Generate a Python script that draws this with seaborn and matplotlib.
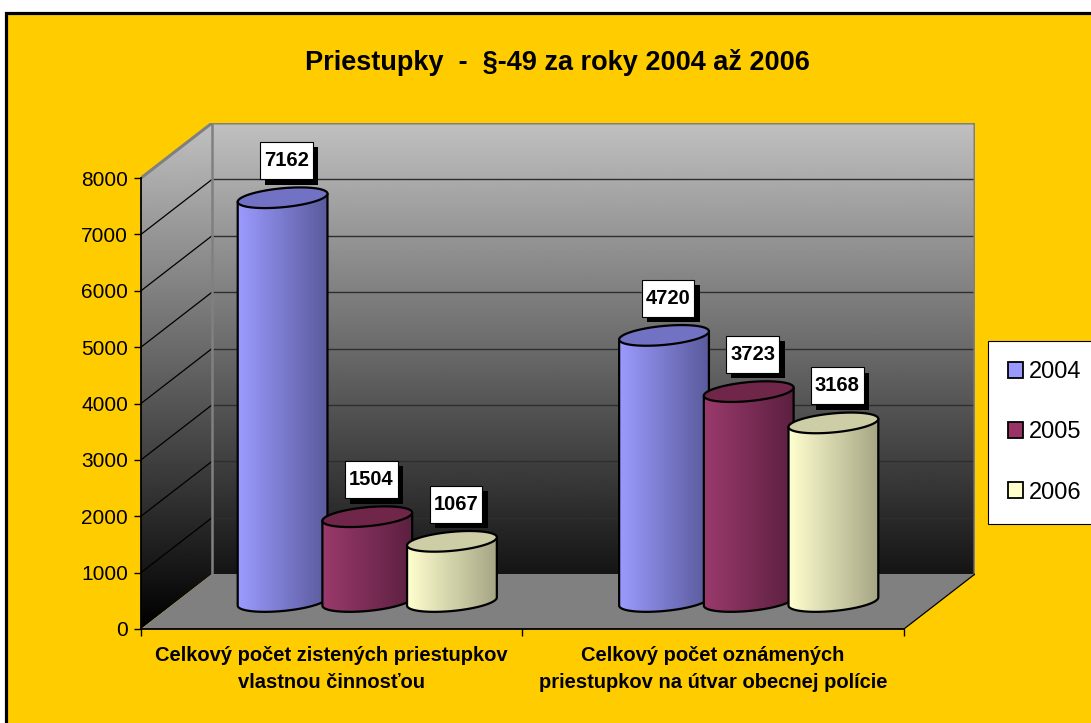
import numpy as np
import pandas as pd
import matplotlib
matplotlib.use("Agg")
import matplotlib.pyplot as plt
import seaborn as sns
from matplotlib.patches import Rectangle, Polygon, PathPatch, Patch
from matplotlib.path import Path
from matplotlib.colors import to_rgb
import matplotlib.patheffects as pe

# ---------------- data ----------------
categories = ["Celkový počet zistených priestupkov\nvlastnou činnosťou",
              "Celkový počet oznámených\npriestupkov na útvar obecnej polície"]
years = ["2004", "2005", "2006"]
values_2004 = [7162, 4720]
values_2005 = [1504, 3723]
values_2006 = [1067, 3168]
y_ticks = [0, 1000, 2000, 3000, 4000, 5000, 6000, 7000, 8000]
title = "Priestupky  -  §-49 za roky 2004 až 2006"

legend_colors = {"2004": "#9999ff", "2005": "#993366", "2006": "#ffffcc"}
side_left = {"2004": "#9b9bff", "2005": "#9a3a6c", "2006": "#ffffcf"}
side_right = {"2004": "#5a5a9c", "2005": "#5c2040", "2006": "#a5a585"}
top_colors = {"2004": "#7272c4", "2005": "#702649", "2006": "#cdcda6"}

df = pd.DataFrame({
    "category": categories * 3,
    "year": [y for y in years for _ in categories],
    "value": values_2004 + values_2005 + values_2006,
})

sns.set_style("white")
plt.rcParams["font.family"] = ["Liberation Sans", "DejaVu Sans"]
plt.rcParams.update({"text.color": "black", "axes.labelcolor": "black",
                     "xtick.color": "black", "ytick.color": "black"})

W, H = 1091, 723
fig = plt.figure(figsize=(W / 100, H / 100), dpi=100)
fig.patch.set_facecolor("white")
fig.add_artist(Rectangle((6.0 / W, -0.05), 1.2, (H - 12.5) / H + 0.05,
                         transform=fig.transFigure, facecolor="#ffcc00",
                         edgecolor="black", linewidth=2.3, zorder=-5))

ax = fig.add_axes([141 / W, (H - 629) / H, (975 - 141) / W, (629 - 123) / H])
ax.patch.set_visible(False)

# ---------------- bars (seaborn) ----------------
sns.barplot(data=df, x="category", y="value", hue="year", order=categories,
            hue_order=years, palette=legend_colors, width=0.666, ax=ax,
            legend=False, errorbar=None)
bars = [p for p in ax.patches if isinstance(p, Rectangle)]

PX_PER_UNIT_Y = (629 - 178) / 8000.0
PX_PER_UNIT_X = (903 - 141) / 2.0
DX = 71 / PX_PER_UNIT_X
DY = 55 / PX_PER_UNIT_Y
X0, X1 = -0.5, 1.5
YTOP = 8000 + DY

# ---------------- walls ----------------
wall_pts = [(X0, 0), (X0, 8000), (X0 + DX, YTOP), (X1 + DX, YTOP),
            (X1 + DX, DY), (X0 + DX, DY)]
wall_patch = Polygon(wall_pts, closed=True, facecolor="none", edgecolor="none",
                     transform=ax.transData)
grad = np.linspace(0, 1, 256).reshape(-1, 1)
img = ax.imshow(grad * 192, cmap="gray", vmin=0, vmax=255, origin="lower",
                extent=[X0, X1 + DX, 0, YTOP], aspect="auto", zorder=0.1,
                interpolation="bilinear")
img.set_clip_path(wall_patch)

for k in range(1, 8):
    yv = k * 1000
    ax.plot([X0 + DX, X1 + DX], [yv + DY, yv + DY], color="#2e2e2e", lw=1.0, zorder=0.3)
    ax.plot([X0, X0 + DX], [yv, yv + DY], color="black", lw=0.9, zorder=0.3)

gb = "#808080"
ax.plot([X0, X0 + DX, X1 + DX, X1 + DX], [8000, YTOP, YTOP, DY], color=gb, lw=2.2,
        zorder=0.4, solid_joinstyle="miter")
ax.plot([X0 + DX, X0 + DX], [DY, YTOP], color=gb, lw=1.8, zorder=0.4)

ax.add_patch(Polygon([(X0, 0), (X1, 0), (X1 + DX, DY), (X0 + DX, DY)], closed=True,
                     facecolor="#808080", edgecolor="none", zorder=0.5))
ax.plot([X1, X1 + DX], [0, DY], color="black", lw=0.9, zorder=0.6)


def label_box(x0, y0, width, height, mutation_size):
    px = 0.2 * mutation_size
    py = 0.45 * mutation_size
    return Path([(x0 - px, y0 - py), (x0 + width + px, y0 - py),
                 (x0 + width + px, y0 + height + py), (x0 - px, y0 + height + py),
                 (x0 - px, y0 - py)], closed=True)


# ---------------- cylinders from the seaborn bars ----------------
b_px = 9.5
B = b_px / PX_PER_UNIT_Y
K = (8 / PX_PER_UNIT_Y) / (88 / PX_PER_UNIT_X)
base = DY / 2

for i, p in enumerate(bars):
    yr = years[i // len(categories)]
    cx = p.get_x() + p.get_width() / 2 + DX / 2
    a = p.get_width() * 1.06 / 2
    top = base + p.get_height()
    z = 2 + i // len(categories)
    p.set_visible(False)

    t = np.linspace(np.pi, 2 * np.pi, 80)
    bx = cx + a * np.cos(t)
    by = base + B * np.sin(t) + K * (bx - cx)
    xs = np.concatenate([[cx - a], bx, [cx + a]])
    ys = np.concatenate([[top - K * a], by, [top + K * a]])
    clip = PathPatch(Path(np.column_stack([np.append(xs, xs[0]), np.append(ys, ys[0])]), closed=True),
                     transform=ax.transData, facecolor="none", edgecolor="none")
    cl, cr = np.array(to_rgb(side_left[yr])), np.array(to_rgb(side_right[yr]))
    f = np.linspace(0, 1, 128)
    g = (cl[None, :] * (1 - f[:, None]) + cr[None, :] * f[:, None])[None, :, :]
    im = ax.imshow(g, extent=[cx - a, cx + a, base - B - K * a - 50, top + K * a + 50],
                   aspect="auto", zorder=z, interpolation="bilinear")
    im.set_clip_path(clip)
    ax.plot(xs, ys, color="black", lw=1.6, zorder=z + 0.1, solid_capstyle="round")

    tt = np.linspace(0, 2 * np.pi, 160)
    tx = cx + a * np.cos(tt)
    ty = top + B * np.sin(tt) + K * (tx - cx)
    ax.add_patch(Polygon(np.column_stack([tx, ty]), closed=True,
                         facecolor=top_colors[yr], edgecolor="black", lw=1.6,
                         zorder=z + 0.2))

    ann = ax.annotate(f"{int(round(p.get_height()))}", xy=(cx, top), xytext=(4, 37),
                      textcoords="offset pixels", ha="center", va="center",
                      fontsize=14.5, fontweight="bold", color="black", zorder=10,
                      bbox=dict(boxstyle=label_box, facecolor="white",
                                edgecolor="black", linewidth=0.8))
    ann.get_bbox_patch().set_path_effects(
        [pe.withSimplePatchShadow(offset=(3.8, -3.8), shadow_rgbFace="black", alpha=1.0)])

# ---------------- axes ----------------
ax.set_xlim(X0, X1 + DX)
ax.set_ylim(0, YTOP)
for s in ["top", "right"]:
    ax.spines[s].set_visible(False)
ax.spines["left"].set_bounds(0, 8000)
ax.spines["bottom"].set_bounds(X0, X1)
for s in ["left", "bottom"]:
    ax.spines[s].set_linewidth(1.3)
    ax.spines[s].set_color("black")
    ax.spines[s].set_zorder(5)

ax.set_yticks(y_ticks)
ax.set_yticklabels([str(v) for v in y_ticks], fontsize=15)
ax.tick_params(axis="y", direction="out", length=5, width=1, pad=4.3, left=True)
ax.set_xticks([X0, 0.5, X1])
ax.set_xticklabels([])
ax.set_xticks([0, 1], minor=True)
ax.set_xticklabels(categories, minor=True, fontsize=14.5, fontweight="bold",
                   linespacing=1.5)
ax.tick_params(axis="x", which="major", direction="out", length=5, width=1, bottom=True)
ax.tick_params(axis="x", which="minor", length=0, pad=12.5)
ax.set_xlabel("")
ax.set_ylabel("")

fig.text(557 / W, 1 - 62 / H, title, ha="center", va="center", fontsize=19.5,
         fontweight="bold")

handles = [Patch(facecolor=legend_colors[y], edgecolor="black", linewidth=1.3) for y in years]
leg = fig.legend(handles, years, loc="upper left", bbox_to_anchor=(988 / W, 1 - 341 / H),
                 borderaxespad=0, frameon=True, fancybox=False, framealpha=1,
                 edgecolor="black", fontsize=17, handlelength=0.65, handleheight=0.65,
                 handletextpad=0.25, labelspacing=1.62, borderpad=0.85)
leg.get_frame().set_linewidth(0.8)

fig.savefig("out.png", dpi=100, facecolor="white")
